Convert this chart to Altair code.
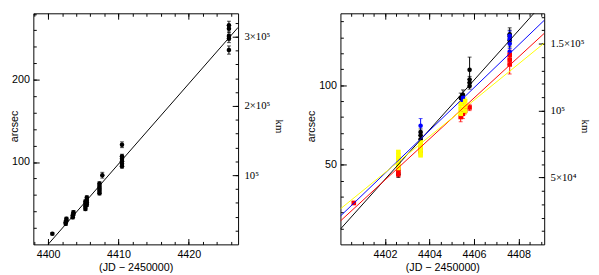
import altair as alt
import pandas as pd

KM_PER_ARCSEC = 1190.0

# ---------------- left panel data ----------------
L_T = [4400.6, 4402.5, 4402.5, 4402.6, 4402.6, 4403.5, 4403.5, 4403.6, 4403.6,
       4405.3, 4405.3, 4405.3, 4405.3, 4405.5, 4405.5, 4405.5, 4405.5,
       4407.3, 4407.3, 4407.3, 4407.3, 4407.3, 4407.7,
       4410.5, 4410.5, 4410.5, 4410.5, 4410.5, 4410.5,
       4425.7, 4425.7, 4425.7, 4425.7, 4425.7]
L_V = [13, 25, 27, 29, 31, 33, 35, 37, 39,
       43, 46, 49, 52, 48, 51, 54, 57,
       62, 65, 68, 71, 74, 84,
       95, 98, 101, 104, 107, 121,
       236, 250, 253, 262, 266]
L_E = [1.5, 2, 2, 2, 2, 2, 2, 2, 2,
       2, 2, 2, 2, 2, 2, 2, 2,
       2, 2, 2, 2, 2, 3.5,
       2.5, 2.5, 2.5, 2.5, 2.5, 3.5,
       5, 5, 5, 5, 5]
L_FIT_T = [4400.0, 4427.0]
L_FIT_V = [0.0, 263.5]

# ---------------- right panel data ----------------
YEL_T = [4402.6, 4402.6, 4402.6, 4402.6, 4402.6, 4402.6,
         4403.6, 4403.6, 4403.6, 4403.6, 4403.6,
         4405.4, 4405.4, 4405.4, 4405.6, 4405.6, 4405.6]
YEL_V = [48, 50, 52, 54, 56, 58,
         56, 58, 60, 62, 64,
         82, 85, 88, 84, 87, 90]
YEL_E = [1, 1, 1, 1, 1, 1,
         1, 1, 1, 1, 1,
         2, 2, 2, 2, 2, 2]

RED_T = [4400.6, 4402.6, 4402.6, 4402.6, 4403.6, 4403.6,
         4405.4, 4405.5, 4405.6, 4405.8, 4407.6, 4407.6, 4407.6]
RED_V = [26, 44, 46, 47.5, 58, 60, 80, 82, 84, 86, 113, 116, 119]
RED_E = [1, 1.5, 1.5, 1.5, 2, 2, 3, 3, 2, 2, 6, 3, 3]

BLU_T = [4402.6, 4403.6, 4405.5, 4405.5, 4407.6, 4407.6, 4407.6, 4407.6]
BLU_V = [52, 74.5, 90, 92, 121, 126, 129, 131]
BLU_E = [2, 4.5, 2, 2, 8, 3, 3, 3]

BLK_T = [4402.6, 4403.6, 4403.6, 4403.6, 4405.4, 4405.5,
         4405.8, 4405.8, 4405.8, 4405.8, 4407.6, 4407.6, 4407.6]
BLK_V = [44, 66, 68.5, 70.5, 92, 94, 99.5, 101.5, 103.5, 109.6, 128, 130.5, 132]
BLK_E = [2, 2, 2, 2, 3, 3, 2, 2, 2, 8, 4, 4, 4]

FIT_SERIES = ["black", "blue", "red", "yellow"]
FIT_T0 = [4400.0, 4400.0, 4400.0, 4400.0]
FIT_V0 = [9.6, 17.8, 14.7, 22.3]
FIT_T1 = [4409.15, 4409.15, 4409.15, 4409.15]
FIT_V1 = [152.3, 140.7, 132.5, 126.4]

SER_DOMAIN = ["black", "blue", "red", "yellow"]
SER_RANGE = ["#000000", "#0000ff", "#ff0000", "#ffff00"]
SER_SHAPE = ["circle", "circle", "square", "square"]

FONT = "Liberation Sans"
SERIF = "Liberation Serif"


def pts_frame(groups):
    rows = []
    for name, ts, vs, es in groups:
        for t, v, e in zip(ts, vs, es):
            rows.append({"t": t, "v": v, "lo": v - e, "hi": v + e, "s": name})
    return pd.DataFrame(rows)


left_pts = pts_frame([("black", L_T, L_V, L_E)])
left_fit = pd.DataFrame({"t": L_FIT_T, "v": L_FIT_V, "s": ["black", "black"]})

right_pts = pts_frame([("black", BLK_T, BLK_V, BLK_E),
                       ("blue", BLU_T, BLU_V, BLU_E),
                       ("red", RED_T, RED_V, RED_E),
                       ("yellow", YEL_T, YEL_V, YEL_E)])
fit_rows = []
for s, t0, v0, t1, v1 in zip(FIT_SERIES, FIT_T0, FIT_V0, FIT_T1, FIT_V1):
    fit_rows.append({"t": t0, "v": v0, "s": s})
    fit_rows.append({"t": t1, "v": v1, "s": s})
right_fit = pd.DataFrame(fit_rows)


def frange(a, b, step):
    out = []
    x = a
    while x <= b + 1e-9:
        out.append(round(x, 6))
        x += step
    return out


def panel(pts, fit, xdom, ytop, w, h, xmaj, xmin, ymaj, ymin, kmmaj, kmmin,
          kmexpr, ytitle_x, kmtitle_x, dot_size):
    xs = alt.Scale(domain=xdom, nice=False, zero=False)
    ys = alt.Scale(domain=[0, ytop], nice=False, zero=False)
    ks = alt.Scale(domain=[0, ytop * KM_PER_ARCSEC], nice=False, zero=False)
    color = alt.Color("s:N", scale=alt.Scale(domain=SER_DOMAIN, range=SER_RANGE), legend=None)
    shape = alt.Shape("s:N", scale=alt.Scale(domain=SER_DOMAIN, range=SER_SHAPE), legend=None)
    base = alt.Chart(pts)

    xa_major = alt.Axis(orient="bottom", values=xmaj, format="d", tickSize=6, offset=-6,
                        domain=False, grid=False, labelPadding=4, labelFlush=False,
                        labelOverlap=False, title="(JD \u2212 2450000)", titlePadding=3)
    ya_major = alt.Axis(orient="left", values=ymaj, format="d", tickSize=6, offset=-6,
                        domain=False, grid=False, labelPadding=4, labelOverlap=False,
                        title="arcsec", titleAngle=270, titleBaseline="bottom",
                        titleX=ytitle_x, titleY=h / 2 - 3)

    bars = base.mark_rule(strokeWidth=1).encode(
        x=alt.X("t:Q", scale=xs, axis=xa_major),
        y=alt.Y("lo:Q", scale=ys, axis=ya_major),
        y2="hi:Q", color=color)
    cap_lo = base.mark_tick(orient="horizontal", size=4, thickness=1).encode(
        x=alt.X("t:Q", scale=xs, axis=None),
        y=alt.Y("lo:Q", scale=ys, axis=None), color=color)
    cap_hi = base.mark_tick(orient="horizontal", size=4, thickness=1).encode(
        x=alt.X("t:Q", scale=xs, axis=None),
        y=alt.Y("hi:Q", scale=ys, axis=None), color=color)
    dots = base.mark_point(filled=True, size=dot_size, opacity=1).encode(
        x=alt.X("t:Q", scale=xs, axis=None),
        y=alt.Y("v:Q", scale=ys, axis=None), color=color, shape=shape)
    lines = alt.Chart(fit).mark_line(clip=True, strokeWidth=1).encode(
        x=alt.X("t:Q", scale=xs, axis=None),
        y=alt.Y("v:Q", scale=ys, axis=None), color=color)

    minor = base.mark_point(opacity=0).encode(
        x=alt.X("t:Q", scale=xs, axis=alt.Axis(orient="bottom", values=xmin, tickSize=3, offset=-3,
                                              labels=False, domain=False, grid=False, title=None)),
        y=alt.Y("v:Q", scale=ys, axis=alt.Axis(orient="left", values=ymin, tickSize=3, offset=-3,
                                              labels=False, domain=False, grid=False, title=None)))
    top_major = base.transform_calculate(km="datum.v * %f" % KM_PER_ARCSEC).mark_point(opacity=0).encode(
        x=alt.X("t:Q", scale=xs, axis=alt.Axis(orient="top", values=xmaj, tickSize=6, offset=-6,
                                              labels=False, domain=False, grid=False, title=None)),
        y=alt.Y("km:Q", scale=ks, axis=alt.Axis(orient="right", values=kmmaj, tickSize=6, offset=-6,
                                               domain=False, grid=False, labelExpr=kmexpr,
                                               labelPadding=6, labelFont=SERIF, labelOverlap=False,
                                               title="km", titleFont=SERIF, titleAngle=90,
                                               titleBaseline="bottom", titleX=kmtitle_x,
                                               titleY=h / 2 - 3)))
    top_minor = base.transform_calculate(km="datum.v * %f" % KM_PER_ARCSEC).mark_point(opacity=0).encode(
        x=alt.X("t:Q", scale=xs, axis=alt.Axis(orient="top", values=xmin, tickSize=3, offset=-3,
                                              labels=False, domain=False, grid=False, title=None)),
        y=alt.Y("km:Q", scale=ks, axis=alt.Axis(orient="right", values=kmmin, tickSize=3, offset=-3,
                                               labels=False, domain=False, grid=False, title=None)))

    return alt.layer(bars, cap_lo, cap_hi, dots, lines, minor, top_major, top_minor).resolve_scale(
        x="independent", y="independent").properties(width=w, height=h)


H = 237

left = panel(left_pts, left_fit, [4397.9, 4427.0], 280.6, 210, H,
             [4400, 4410, 4420], frange(4398, 4426, 2),
             [100, 200], frange(20, 280, 20),
             [100000, 200000, 300000], frange(20000, 320000, 20000),
             "datum.value == 100000 ? '10\u2075' : datum.value == 200000 ? '2\u00d710\u2075' : '3\u00d710\u2075'",
             -20, 42, 22)

right = panel(right_pts, right_fit, [4400.0, 4409.15], 145.1, 209, H,
              [4402, 4404, 4406, 4408], frange(4400.5, 4409.0, 0.5),
              [50, 100], frange(10, 140, 10),
              [50000, 100000, 150000], frange(10000, 170000, 10000),
              "datum.value == 50000 ? '5\u00d710\u2074' : datum.value == 100000 ? '10\u2075' : '1.5\u00d710\u2075'",
              -31, 42, 22)

chart = alt.hconcat(left, right, spacing=105, bounds="flush").properties(
    padding={"left": 0, "top": 1, "right": 0, "bottom": 0}
).configure_view(
    stroke="black", strokeWidth=1
).configure_axis(
    labelFont=FONT, labelFontSize=11, labelColor="black",
    titleFont=FONT, titleFontSize=11, titleFontWeight="normal", titleColor="black",
    tickColor="black", tickWidth=1
)

chart.save("out.html", embed_options={"renderer": "svg", "actions": False})
